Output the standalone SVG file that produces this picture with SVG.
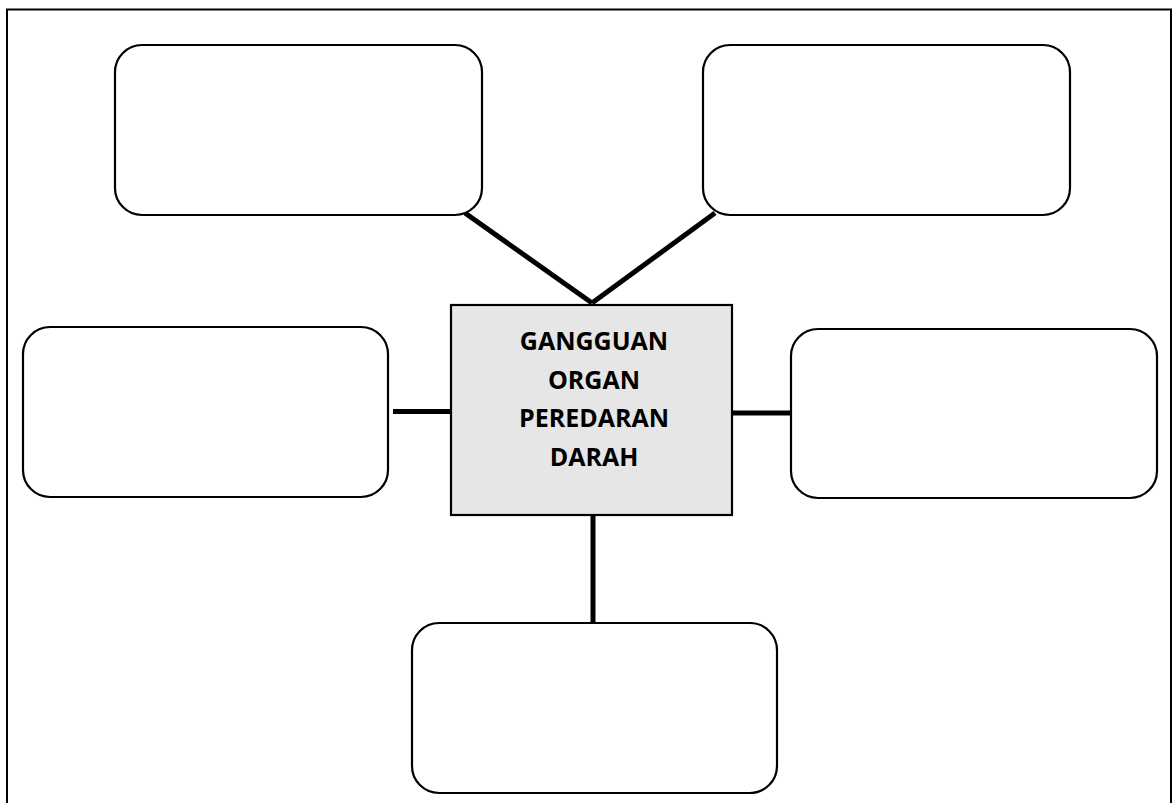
<svg xmlns="http://www.w3.org/2000/svg" width="1173" height="803" viewBox="0 0 1173 803">
<style>
.box{fill:#ffffff;stroke:#000000;stroke-width:2.2}
.center{fill:#e6e6e6;stroke:#000000;stroke-width:2.2}
.conn{stroke:#000000;stroke-width:5;fill:none}
.label{font-family:"Open Sans","Noto Sans",sans-serif;font-weight:bold;font-size:25px;fill:#000000;text-anchor:middle}
</style>
<rect x="0" y="0" width="1173" height="803" fill="#ffffff"/>
<rect id="frame" x="7" y="9.5" width="1164" height="800" fill="none" stroke="#000000" stroke-width="2"/>
<g id="connectors">
<line class="conn" x1="465" y1="213" x2="592" y2="303"/>
<line class="conn" x1="715" y1="213" x2="592" y2="303"/>
<line class="conn" x1="393" y1="411.5" x2="451" y2="411.5"/>
<line class="conn" x1="732" y1="413" x2="791" y2="413"/>
<line class="conn" x1="593" y1="510" x2="593" y2="622"/>
</g>
<g id="node-top-left"><rect class="box" x="115" y="45" width="367" height="170" rx="27"/></g>
<g id="node-top-right"><rect class="box" x="703" y="45" width="367" height="170" rx="27"/></g>
<g id="node-left"><rect class="box" x="23" y="327" width="365" height="170" rx="27"/></g>
<g id="node-right"><rect class="box" x="791" y="329" width="366" height="169" rx="27"/></g>
<g id="node-bottom"><rect class="box" x="412" y="623" width="365" height="170" rx="27"/></g>
<g id="node-center">
<rect class="center" x="451" y="305" width="281" height="210"/>
<text class="label" x="594" y="350">GANGGUAN</text>
<text class="label" x="594" y="389">ORGAN</text>
<text class="label" x="594" y="427">PEREDARAN</text>
<text class="label" x="594" y="466">DARAH</text>
</g>
</svg>
